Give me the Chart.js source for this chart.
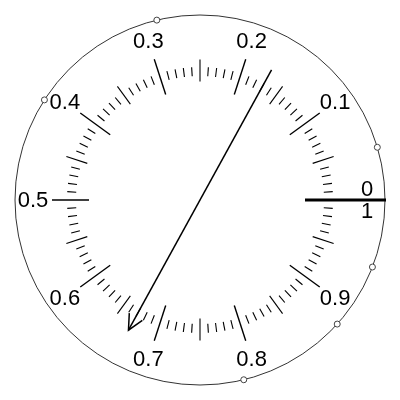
<!DOCTYPE html>
<html>
<head>
<meta charset="utf-8">
<script src="https://cdn.jsdelivr.net/npm/chart.js@4"></script>
<style>
  html, body { margin: 0; padding: 0; background: #fff; }
  #wrap { width: 400px; height: 400px; }
</style>
</head>
<body>
<div id="wrap"><canvas id="dial"></canvas></div>
<script>
// dial values (0..1, counter-clockwise from the right)
const tickValues = [0.1, 0.2, 0.3, 0.4, 0.5, 0.6, 0.7, 0.8, 0.9];
const tickLabels = ["0.1", "0.2", "0.3", "0.4", "0.5", "0.6", "0.7", "0.8", "0.9"];
const zeroLabels = ["0", "1"];
const markerValues = [0.046, 0.2875, 0.409, 0.788, 0.883, 0.941];
const needleValue = 0.67;
const zeroValue = 0;

const RIM = 185;
const LABEL_R = 167;

const polar = (v, r) => ({
    x: r * Math.cos(2 * Math.PI * v),
    y: r * Math.sin(2 * Math.PI * v),
});

const dialFace = {
    id: "dialFace",
    beforeDatasetsDraw(chart) {
        const { ctx, scales } = chart;
        const px = (p) => [scales.x.getPixelForValue(p.x), scales.y.getPixelForValue(p.y)];
        const cx = scales.x.getPixelForValue(0);
        const cy = scales.y.getPixelForValue(0);
        const k = scales.x.getPixelForValue(1) - cx;

        ctx.save();
        // rim
        ctx.strokeStyle = "#333";
        ctx.lineWidth = 1;
        ctx.beginPath();
        ctx.arc(cx, cy, RIM * k, 0, Math.PI * 2);
        ctx.stroke();

        // ticks every 0.01
        ctx.strokeStyle = "#000";
        for (let i = 1; i < 100; i++) {
            const v = i / 100;
            let r0 = 124, r1 = 133, w = 1.1;
            if (i % 10 === 0) { r0 = 111; r1 = 148; w = 1.4; }
            else if (i % 5 === 0) { r0 = 118.5; r1 = 140.5; w = 1.1; }
            const a = px(polar(v, r0));
            const b = px(polar(v, r1));
            ctx.lineWidth = w;
            ctx.beginPath();
            ctx.moveTo(a[0], a[1]);
            ctx.lineTo(b[0], b[1]);
            ctx.stroke();
        }

        // labels
        ctx.fillStyle = "#000";
        ctx.font = '22px "Liberation Sans", Arial, sans-serif';
        ctx.textAlign = "center";
        ctx.textBaseline = "middle";
        tickValues.forEach((v, i) => {
            const p = px(polar(v, LABEL_R));
            ctx.fillText(tickLabels[i], p[0], p[1] + 1);
        });
        const z = px(polar(zeroValue, LABEL_R));
        ctx.fillText(zeroLabels[0], z[0], z[1] - 10);
        ctx.fillText(zeroLabels[1], z[0], z[1] + 12);
        ctx.restore();
    },
    afterDatasetsDraw(chart) {
        const { ctx } = chart;
        const pts = chart.getDatasetMeta(1).data;
        const tail = pts[0], tip = pts[1];
        const ang = Math.atan2(tail.y - tip.y, tail.x - tip.x);
        const len = 17, spread = 26 * Math.PI / 180;
        ctx.save();
        ctx.strokeStyle = "#000";
        ctx.lineWidth = 1.5;
        ctx.beginPath();
        ctx.moveTo(tip.x + len * Math.cos(ang - spread), tip.y + len * Math.sin(ang - spread));
        ctx.lineTo(tip.x, tip.y);
        ctx.lineTo(tip.x + len * Math.cos(ang + spread), tip.y + len * Math.sin(ang + spread));
        ctx.stroke();
        ctx.restore();
    },
};

new Chart(document.getElementById("dial"), {
    type: "scatter",
    data: {
        datasets: [
            {
                data: markerValues.map((v) => polar(v, RIM)),
                pointRadius: 3,
                backgroundColor: "#fff",
                borderColor: "#444",
                borderWidth: 1,
            },
            {
                data: [polar(needleValue + 0.5, 148.5), polar(needleValue, 148.5)],
                showLine: true,
                borderColor: "#000",
                borderWidth: 1.5,
                pointRadius: 0,
            },
            {
                data: [polar(zeroValue, 105), polar(zeroValue, RIM + 1)],
                showLine: true,
                borderColor: "#000",
                borderWidth: 3,
                pointRadius: 0,
            },
        ],
    },
    options: {
        responsive: true,
        maintainAspectRatio: false,
        animation: false,
        layout: { padding: 0, autoPadding: false },
        plugins: { legend: { display: false }, tooltip: { enabled: false } },
        scales: {
            x: { type: "linear", min: -200, max: 200, display: false },
            y: { type: "linear", min: -200, max: 200, display: false },
        },
    },
    plugins: [dialFace],
});
</script>
</body>
</html>
